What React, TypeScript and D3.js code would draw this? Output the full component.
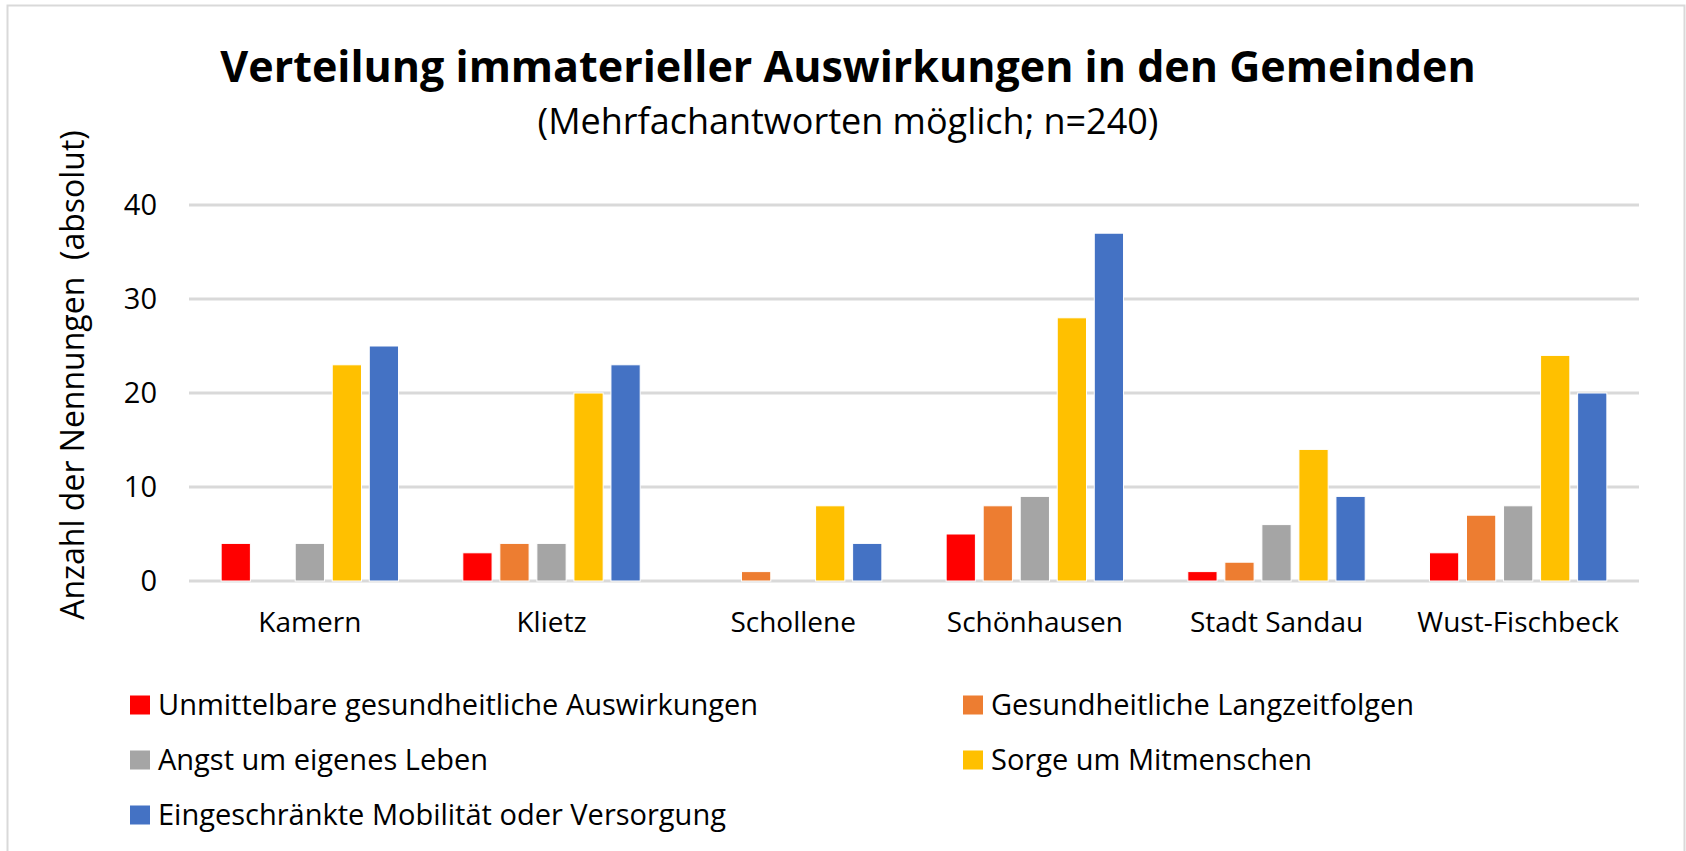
import React, { useEffect, useRef } from "react";
import * as d3 from "d3";

// Gemeinden (x-axis categories)
const categories = [
  "Kamern",
  "Klietz",
  "Schollene",
  "Schönhausen",
  "Stadt Sandau",
  "Wust-Fischbeck",
];

// series names, in legend order
const seriesNames = [
  "Unmittelbare gesundheitliche Auswirkungen",
  "Gesundheitliche Langzeitfolgen",
  "Angst um eigenes Leben",
  "Sorge um Mitmenschen",
  "Eingeschränkte Mobilität oder Versorgung",
];

const seriesColors = ["#FF0000", "#ED7D31", "#A5A5A5", "#FFC000", "#4472C4"];

// values per series, one number per Gemeinde
const unmittelbar = [4, 3, 0, 5, 1, 3];
const langzeitfolgen = [0, 4, 1, 8, 2, 7];
const angst = [4, 4, 0, 9, 6, 8];
const sorge = [23, 20, 8, 28, 14, 24];
const mobilitaet = [25, 23, 4, 37, 9, 20];

const seriesValues = [unmittelbar, langzeitfolgen, angst, sorge, mobilitaet];

const yTicks = [0, 10, 20, 30, 40];

const title = "Verteilung immaterieller Auswirkungen in den Gemeinden";
const subtitle = "(Mehrfachantworten möglich; n=240)";
const yTitle = "Anzahl der Nennungen\u00a0 (absolut)";

const WIDTH = 1686;
const HEIGHT = 851;
const FONT = "'Open Sans', 'Noto Sans', sans-serif";

function GroupedBarChart() {
  const svgRef = useRef<SVGSVGElement>(null);

  useEffect(() => {
    const svg = d3.select(svgRef.current);
    svg.selectAll("*").remove();

    const plot = { left: 189, right: 1639, top: 205, bottom: 581 };

    // scales
    const x0 = d3
      .scaleBand()
      .domain(categories)
      .range([plot.left, plot.right])
      .padding(0);

    const groupWidth = x0.bandwidth() * 0.734;
    const x1 = d3
      .scaleBand()
      .domain(seriesNames)
      .range([
        (x0.bandwidth() - groupWidth) / 2,
        (x0.bandwidth() + groupWidth) / 2,
      ])
      .paddingInner(0.21);

    const y = d3.scaleLinear().domain([0, 40]).range([plot.bottom, plot.top]);

    // frame
    svg
      .append("rect")
      .attr("x", 7.5)
      .attr("y", 5.5)
      .attr("width", 1677)
      .attr("height", 900)
      .attr("fill", "white")
      .attr("stroke", "#d9d9d9")
      .attr("stroke-width", 2);

    // titles
    svg
      .append("text")
      .attr("x", 848)
      .attr("y", 82)
      .attr("text-anchor", "middle")
      .attr("font-size", 43)
      .attr("font-weight", 700)
      .text(title);

    svg
      .append("text")
      .attr("x", 848)
      .attr("y", 134)
      .attr("text-anchor", "middle")
      .attr("font-size", 36)
      .text(subtitle);

    // gridlines
    svg
      .append("g")
      .selectAll("line")
      .data(yTicks)
      .join("line")
      .attr("x1", plot.left)
      .attr("x2", plot.right)
      .attr("y1", (d) => y(d))
      .attr("y2", (d) => y(d))
      .attr("stroke", "#d9d9d9")
      .attr("stroke-width", 3);

    // y axis labels
    const yAxis = d3.axisLeft(y).tickValues(yTicks).tickSize(0).tickPadding(32);
    const yAxisG = svg
      .append("g")
      .attr("transform", `translate(${plot.left},0)`)
      .call(yAxis);
    yAxisG.select(".domain").remove();
    yAxisG
      .selectAll("text")
      .attr("font-family", FONT)
      .attr("font-size", 29)
      .attr("fill", "#000");

    // bars
    svg
      .append("g")
      .selectAll("g")
      .data(seriesNames)
      .join("g")
      .attr("fill", (_, i) => seriesColors[i])
      .selectAll("rect")
      .data((name, i) =>
        categories.map((cat, j) => ({ cat, name, value: seriesValues[i][j] }))
      )
      .join("rect")
      .attr("x", (d) => (x0(d.cat) ?? 0) + (x1(d.name) ?? 0))
      .attr("width", x1.bandwidth())
      .attr("y", (d) => y(d.value))
      .attr("height", (d) => y(0) - y(d.value))
      .attr("stroke", "white")
      .attr("stroke-width", (d) => (d.value > 0 ? 1 : 0));

    // x axis labels
    const xAxis = d3.axisBottom(x0).tickSize(0).tickPadding(31);
    const xAxisG = svg
      .append("g")
      .attr("transform", `translate(0,${plot.bottom})`)
      .call(xAxis);
    xAxisG.select(".domain").remove();
    xAxisG
      .selectAll("text")
      .attr("font-family", FONT)
      .attr("font-size", 28)
      .attr("fill", "#000");

    // y axis title
    svg
      .append("text")
      .attr("transform", "translate(84,375) rotate(-90)")
      .attr("text-anchor", "middle")
      .attr("font-size", 32)
      .text(yTitle);

    // legend
    const legendPos = [
      { x: 130, y: 705 },
      { x: 963, y: 705 },
      { x: 130, y: 760 },
      { x: 963, y: 760 },
      { x: 130, y: 815 },
    ];
    const legend = svg
      .append("g")
      .selectAll("g")
      .data(seriesNames)
      .join("g")
      .attr("transform", (_, i) => `translate(${legendPos[i].x},${legendPos[i].y})`);
    legend
      .append("rect")
      .attr("x", 0)
      .attr("y", -9.5)
      .attr("width", 20)
      .attr("height", 19)
      .attr("fill", (_, i) => seriesColors[i]);
    legend
      .append("text")
      .attr("x", 28)
      .attr("y", 10)
      .attr("font-size", 29)
      .text((d) => d);
  }, []);

  return (
    <svg
      ref={svgRef}
      width={WIDTH}
      height={HEIGHT}
      style={{ display: "block", fontFamily: FONT }}
    />
  );
}

export default function App() {
  return (
    <div style={{ position: "absolute", left: 0, top: 0, background: "white" }}>
      <GroupedBarChart />
    </div>
  );
}
